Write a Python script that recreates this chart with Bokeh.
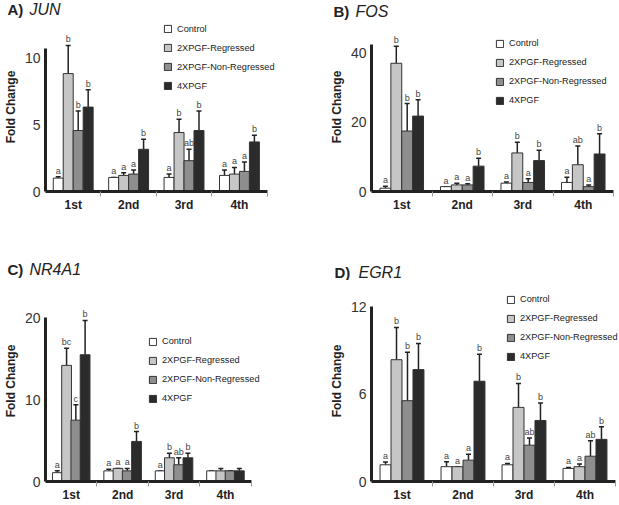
import numpy as np
from bokeh.plotting import figure
from bokeh.models import (Range1d, FixedTicker, ColumnDataSource, Legend, LegendItem,
                          Label, Whisker, TeeHead)
from bokeh.layouts import column, row
from bokeh.transform import dodge
from bokeh.core.properties import value
from bokeh.embed import file_html
from bokeh.resources import INLINE

periods = ["1st", "2nd", "3rd", "4th"]
groups = ["Control", "2XPGF-Regressed", "2XPGF-Non-Regressed", "4XPGF"]

# ---- JUN (rows = groups, columns = periods) ----
jun_mean = [[1.0, 1.05, 1.05, 1.2],
            [8.8, 1.2, 4.4, 1.3],
            [4.55, 1.3, 2.3, 1.5],
            [6.3, 3.15, 4.55, 3.7]]
jun_err = [[1.1, 1.05, 1.3, 1.6],
           [10.9, 1.4, 5.4, 1.8],
           [6.0, 1.6, 3.15, 2.2],
           [7.6, 3.9, 6.0, 4.2]]
jun_letters = [["a", "a", "a", "a"],
               ["b", "a", "b", "a"],
               ["b", "a", "ab", "a"],
               ["b", "b", "b", "b"]]
jun_ticks = [0, 5, 10]

# ---- FOS ----
fos_mean = [[0.95, 1.4, 2.4, 2.6],
            [36.9, 1.9, 11.1, 7.7],
            [17.4, 1.9, 2.6, 1.4],
            [21.7, 7.3, 8.9, 10.8]]
fos_err = [[1.5, 1.4, 2.7, 4.1],
           [41.8, 2.4, 14.2, 13.1],
           [25.3, 2.2, 3.7, 1.9],
           [26.4, 9.6, 11.9, 16.6]]
fos_letters = [["a", "a", "a", "a"],
               ["b", "a", "b", "ab"],
               ["b", "a", "a", "a"],
               ["b", "b", "b", "b"]]
fos_ticks = [0, 20, 40]

# ---- NR4A1 ----
nr4a1_mean = [[1.08, 1.3, 1.3, 1.3],
              [14.2, 1.6, 2.9, 1.3],
              [7.5, 1.3, 2.05, 1.3],
              [15.5, 4.9, 2.9, 1.3]]
nr4a1_err = [[1.3, 1.5, 1.3, 1.3],
             [16.3, 1.6, 3.45, 1.6],
             [9.4, 1.6, 2.9, 1.3],
             [19.7, 6.1, 3.45, 1.6]]
nr4a1_letters = [["a", "a", "a", ""],
                 ["bc", "a", "b", ""],
                 ["c", "a", "ab", ""],
                 ["b", "b", "b", ""]]
nr4a1_ticks = [0, 10, 20]

# ---- EGR1 ----
egr1_mean = [[1.15, 1.02, 1.15, 0.9],
             [8.38, 1.02, 5.1, 1.02],
             [5.56, 1.47, 2.5, 1.74],
             [7.7, 6.9, 4.2, 2.9]]
egr1_err = [[1.35, 1.36, 1.24, 0.97],
            [10.6, 1.02, 6.75, 1.2],
            [8.9, 1.88, 3.0, 2.8],
            [9.5, 8.75, 5.4, 3.77]]
egr1_letters = [["a", "a", "a", "a"],
                ["b", "a", "b", "a"],
                ["b", "a", "ab", "ab"],
                ["b", "b", "b", "b"]]
egr1_ticks = [0, 6, 12]

SANS = "'Liberation Sans', Arial, sans-serif"
FILLS = ["#ffffff", "#c6c6c6", "#8e8e8e", "#2b2b2b"]
OFFS = [-0.27, -0.09, 0.09, 0.27]
DARK = "#222222"


def title_row(w, h, specs):
    t = figure(width=w, height=h, x_range=Range1d(0, 1), y_range=Range1d(0, 1),
               output_backend="svg", toolbar_location=None, title_location=None,
               x_axis_type=None, y_axis_type=None,
               min_border_left=0, min_border_right=0, min_border_top=0, min_border_bottom=0)
    t.outline_line_color = None
    for letter, gene, x0, ytop, gap in specs:
        t.add_layout(Label(x=x0, y=ytop, x_units="screen", y_units="screen",
                           text=letter + ")", text_font=SANS, text_font_style="bold",
                           text_font_size="15px", text_baseline="top", text_color=DARK))
        t.add_layout(Label(x=x0 + gap, y=ytop, x_units="screen", y_units="screen",
                           text=gene, text_font=SANS, text_font_style="italic",
                           text_font_size="16px", text_baseline="top", text_color=DARK))
    return t


def panel(means, errs, lets, ticks, axis_top, px_per_unit, cat_px, w, h,
          bl, bb, bar_w, legend_pos):
    centers = np.arange(len(periods)) + 0.5
    frame_w = w - bl
    frame_h = h - bb
    x_end = len(periods) * frame_w / cat_px
    p = figure(width=w, height=h, x_range=Range1d(0, x_end),
               y_range=Range1d(0, frame_h / px_per_unit), output_backend="svg",
               toolbar_location=None, title_location=None,
               min_border_left=bl, min_border_right=0, min_border_top=0,
               min_border_bottom=bb)
    p.outline_line_color = None
    p.xgrid.visible = False
    p.ygrid.visible = False

    items = []
    for g, name in enumerate(groups):
        src = ColumnDataSource(dict(x=centers, mean=means[g], err=errs[g], lab=lets[g]))
        r = p.vbar(x=dodge("x", OFFS[g]), top="mean", bottom=0, width=bar_w, source=src,
                   fill_color=FILLS[g], line_color="#333333", line_width=1)
        wk = Whisker(source=src, base=dodge("x", OFFS[g]), lower="mean", upper="err",
                     dimension="height", line_color=DARK, line_width=1.5,
                     lower_head=None,
                     upper_head=TeeHead(size=5, line_color=DARK, line_width=1.5))
        p.add_layout(wk)
        p.text(x=dodge("x", OFFS[g]), y="err", text="lab", source=src,
               text_align="center", text_baseline="bottom", y_offset=-1,
               text_font_size="9px", text_font=value(SANS), text_color="#444444")
        items.append(LegendItem(label=name, renderers=[r]))

    leg = Legend(items=items, location=legend_pos, orientation="vertical",
                 glyph_width=9, glyph_height=9, label_height=13, spacing=6,
                 padding=0, margin=0, border_line_color=None,
                 background_fill_alpha=0, label_text_font=SANS,
                 label_text_font_size="9.2px", label_standoff=5,
                 label_text_color=DARK)
    p.add_layout(leg)

    ya = p.yaxis[0]
    ya.ticker = FixedTicker(ticks=ticks)
    ya.bounds = (0, axis_top)
    ya.axis_line_width = 3
    ya.axis_line_color = DARK
    ya.major_tick_line_color = None
    ya.minor_tick_line_color = None
    ya.major_tick_out = 0
    ya.major_tick_in = 0
    ya.major_label_standoff = 5
    ya.major_label_text_font = SANS
    ya.major_label_text_font_size = "14px"
    ya.major_label_text_color = "#333333"
    ya.axis_label = "Fold Change"
    ya.axis_label_text_font = SANS
    ya.axis_label_text_font_style = "bold"
    ya.axis_label_text_font_size = "12px"
    ya.axis_label_standoff = 4
    ya.axis_label_text_color = DARK

    xa = p.xaxis[0]
    xa.ticker = FixedTicker(ticks=list(centers),
                            minor_ticks=list(range(1, len(periods) + 1)))
    xa.bounds = (0, len(periods))
    xa.major_label_overrides = {float(c): s for c, s in zip(centers, periods)}
    xa.major_tick_line_color = None
    xa.major_tick_out = 0
    xa.major_tick_in = 0
    xa.minor_tick_line_color = "#999999"
    xa.minor_tick_out = 5
    xa.minor_tick_in = 0
    xa.axis_line_width = 3
    xa.axis_line_color = DARK
    xa.major_label_standoff = 1
    xa.major_label_text_font = SANS
    xa.major_label_text_font_style = "bold"
    xa.major_label_text_font_size = "12px"
    xa.major_label_text_color = DARK
    return p


t1 = title_row(618, 22, [("A", "JUN", 7, 21.5, 22), ("B", "FOS", 333, 20, 22)])
t2 = title_row(618, 30, [("C", "NR4A1", 7, 20, 22), ("D", "EGR1", 334, 17, 24)])

pA = panel(jun_mean, jun_err, jun_letters, jun_ticks, 10.7, 13.4, 225,
           310, 228, 41, 59, 0.18, (118, 99))
pB = panel(fos_mean, fos_err, fos_letters, fos_ticks, 42.3, 3.475, 242,
           308, 228, 61, 59, 0.18, (124, 84.5))
pC = panel(nr4a1_mean, nr4a1_err, nr4a1_letters, nr4a1_ticks, 20.1, 8.3, 208,
           310, 224, 42, 20, 0.19, (103, 76.5))
pD = panel(egr1_mean, egr1_err, egr1_letters, egr1_ticks, 12.07, 14.75, 244,
           308, 224, 61, 20, 0.18, (135, 118.5))

layout = column(t1, row(pA, pB), t2, row(pC, pD))
open("out.html", "w").write(file_html(layout, INLINE))
